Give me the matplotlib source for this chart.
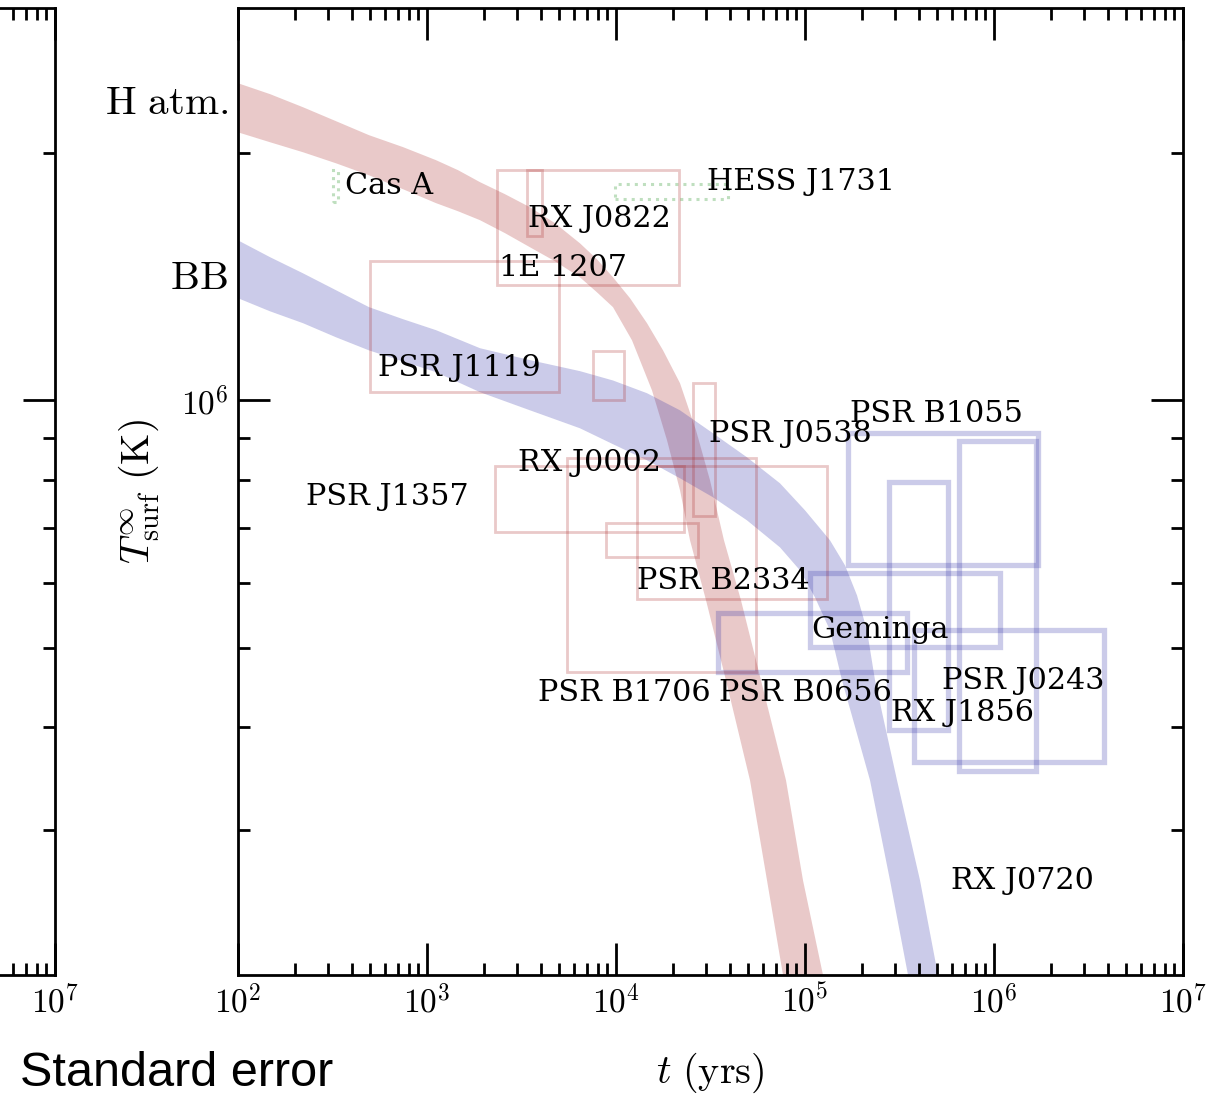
import math
import matplotlib
matplotlib.use('Agg')
import matplotlib.pyplot as plt
import matplotlib.transforms as mtransforms
from matplotlib.patches import Rectangle
from matplotlib.ticker import FixedLocator, FuncFormatter, NullFormatter

plt.rcParams['mathtext.fontset'] = 'cm'
plt.rcParams['axes.linewidth'] = 2.0

# cooling bands: upper/lower edges (t in yrs, T in K)
h_up_t = [100, 147.7, 220.8, 330, 493.3, 746.4, 1116, 1459, 1907, 2586, 3508, 4756, 6449,
          7934, 9641, 11860, 14590, 17740, 21810, 26500, 31440, 37270, 45850, 58510,
          79340, 97590, 124500]
h_up_T = [2.430e6, 2.357e6, 2.272e6, 2.185e6, 2.101e6, 2.032e6, 1.959e6, 1.905e6, 1.842e6,
          1.781e6, 1.717e6, 1.642e6, 1.552e6, 1.484e6, 1.411e6, 1.331e6, 1.241e6, 1.150e6,
          1.049e6, 9.194e5, 7.991e5, 6.756e5, 5.711e5, 4.564e5, 3.450e5, 2.607e5, 2.0e5]
h_lo_t = [100, 147.7, 220.8, 330, 493.3, 746.4, 1116, 1459, 1907, 2586, 3508, 4756, 6449,
          7934, 9641, 12150, 15510, 18620, 21810, 24640, 29950, 38190, 51170, 62950, 76490]
h_lo_T = [2.118e6, 2.060e6, 2.003e6, 1.942e6, 1.878e6, 1.806e6, 1.737e6, 1.698e6, 1.656e6,
          1.597e6, 1.535e6, 1.476e6, 1.411e6, 1.353e6, 1.298e6, 1.183e6, 1.028e6, 8.940e5,
          7.773e5, 6.756e5, 5.711e5, 4.564e5, 3.450e5, 2.607e5, 2.0e5]

bb_up_t = [100, 147.7, 220.8, 330, 493.3, 746.4, 1116, 1907, 3508, 6449, 9641, 14590, 21810,
           32610, 49330, 73750, 100000, 135600, 162800, 188400, 212800, 234700, 268300,
           306800, 406000, 505400]
bb_up_T = [1.565e6, 1.493e6, 1.427e6, 1.361e6, 1.298e6, 1.255e6, 1.217e6, 1.157e6, 1.119e6,
           1.085e6, 1.057e6, 1.020e6, 9.723e5, 9.117e5, 8.524e5, 7.925e5, 7.348e5, 6.756e5,
           6.299e5, 5.792e5, 5.251e5, 4.564e5, 3.968e5, 3.450e5, 2.607e5, 2.0e5]
bb_lo_t = [100, 147.7, 220.8, 330, 493.3, 746.4, 1116, 1907, 3508, 6449, 9641, 14590, 21810,
           32610, 49330, 73750, 94080, 112900, 135600, 157000, 186200, 220800, 281700, 350800]
bb_lo_T = [1.331e6, 1.283e6, 1.241e6, 1.193e6, 1.150e6, 1.115e6, 1.082e6, 1.023e6, 9.723e5,
           9.246e5, 8.843e5, 8.453e5, 8.038e5, 7.621e5, 7.145e5, 6.624e5, 6.211e5, 5.759e5,
           5.251e5, 4.564e5, 3.968e5, 3.450e5, 2.607e5, 2.0e5]

# error boxes: t_min, t_max, T_min, T_max
red_boxes = [
    (2344, 21530, 1.380e6, 1.905e6),
    (3381, 4055, 1.583e6, 1.905e6),
    (499, 4990, 1.023e6, 1.476e6),
    (7550, 11020, 1.0e6, 1.147e6),
    (25530, 33420, 7.226e5, 1.049e6),
    (2291, 22910, 6.91e5, 8.31e5),
    (5508, 55080, 4.67e5, 8.50e5),
    (8850, 27170, 6.44e5, 7.09e5),
    (12910, 130600, 5.74e5, 8.31e5),
]
blue_boxes = [
    (1.69e5, 1.71e6, 6.30e5, 9.12e5),
    (6.53e5, 1.667e6, 3.54e5, 8.91e5),
    (2.78e5, 5.71e5, 3.97e5, 7.95e5),
    (1.06e5, 1.077e6, 5.01e5, 6.16e5),
    (3.467e4, 3.467e5, 4.67e5, 5.51e5),
    (3.78e5, 3.82e6, 3.63e5, 5.25e5),
]
green_boxes = [
    (318, 338, 1.741e6, 1.905e6),
    (9890, 39170, 1.756e6, 1.831e6),
]

src_names = ['Cas A', 'HESS J1731', 'RX J0822', '1E 1207', 'PSR J1119', 'PSR B1055',
             'PSR J0538', 'RX J0002', 'PSR J1357', 'PSR B2334', 'Geminga', 'PSR J0243',
             'PSR B1706', 'PSR B0656', 'RX J1856', 'RX J0720']
src_t = [368, 30270, 3420, 2404, 551, 1.73e5, 31050, 3027, 229, 12910, 1.077e5, 5.31e5,
         3864, 35080, 2.85e5, 5.92e5]
src_T = [1.821e6, 1.842e6, 1.661e6, 1.448e6, 1.094e6, 9.62e5, 9.09e5, 8.38e5, 7.62e5,
         6.03e5, 5.25e5, 4.56e5, 4.40e5, 4.40e5, 4.16e5, 2.60e5]

RED = '#aa2828'
BLUE = '#3030a8'
GREEN = '#008000'

fig = plt.figure(figsize=(12.25, 10.95), dpi=100)
ax0 = fig.add_axes([-0.7265, 0.1096, 0.7714, 0.8831])
ax = fig.add_axes([0.1943, 0.1096, 0.7714, 0.8831])


def style(a, only=None):
    a.set_xscale('log')
    a.set_yscale('log')
    a.set_xlim(1e2, 1e7)
    a.set_ylim(2e5, 3e6)
    a.yaxis.set_major_locator(FixedLocator([1e6]))
    a.yaxis.set_minor_locator(FixedLocator([3e5, 4e5, 5e5, 6e5, 7e5, 8e5, 9e5, 2e6]))
    a.yaxis.set_minor_formatter(NullFormatter())
    a.xaxis.set_major_locator(FixedLocator([1e2, 1e3, 1e4, 1e5, 1e6, 1e7]))
    a.xaxis.set_minor_locator(FixedLocator([m * 10 ** e for e in range(2, 7) for m in range(2, 10)]))
    a.xaxis.set_minor_formatter(NullFormatter())

    def fmt(v, p):
        if only is not None and abs(v - only) > 1e-6 * only:
            return ''
        return r'$10^{%d}$' % round(math.log10(v))
    a.xaxis.set_major_formatter(FuncFormatter(fmt))
    a.yaxis.set_major_formatter(FuncFormatter(fmt))
    a.tick_params(which='both', direction='in', top=True, right=True, labelsize=24, pad=7)
    a.tick_params(which='major', length=23, width=2)
    a.tick_params(which='minor', length=8.5, width=2)


style(ax0, only=1e7)
style(ax)
ax0.tick_params(labelleft=False)

# bands
ax.fill(h_up_t + h_lo_t[::-1], h_up_T + h_lo_T[::-1], color=RED, alpha=0.25, lw=0)
ax.fill(bb_up_t + bb_lo_t[::-1], bb_up_T + bb_lo_T[::-1], color=BLUE, alpha=0.25, lw=0)

for t0, t1, T0, T1 in red_boxes:
    ax.add_patch(Rectangle((t0, T0), t1 - t0, T1 - T0, fill=False, ec=RED, alpha=0.25, lw=2))
for t0, t1, T0, T1 in blue_boxes:
    ax.add_patch(Rectangle((t0, T0), t1 - t0, T1 - T0, fill=False, ec=BLUE, alpha=0.25, lw=3.8))
for t0, t1, T0, T1 in green_boxes:
    ax.add_patch(Rectangle((t0, T0), t1 - t0, T1 - T0, fill=False, ec=GREEN, alpha=0.25,
                           lw=2.2, ls=':'))

for name, t, T in zip(src_names, src_t, src_T):
    ax.text(t, T, name, family='DejaVu Serif', fontsize=21.8, ha='left', va='center')

trans = mtransforms.blended_transform_factory(ax.transAxes, ax.transData)
ax.text(-0.0106, 2.30e6, r'$\mathrm{H\ atm.}$', fontsize=29.5, ha='right', va='center',
        transform=trans)
ax.text(-0.0106, 1.41e6, r'$\mathrm{BB}$', fontsize=29.5, ha='right', va='center',
        transform=trans)

ax.set_xlabel(r'$t\ \mathrm{(yrs)}$', fontsize=29, labelpad=22)
ax.set_ylabel(r'$T^\infty_\mathrm{surf}\ \mathrm{(K)}$', fontsize=29, labelpad=14)

fig.text(20 / 1225, 1 - 1074 / 1095, 'Standard error', family='Liberation Sans',
         fontsize=35, ha='left', va='center')

plt.savefig('out.png', dpi=100)
